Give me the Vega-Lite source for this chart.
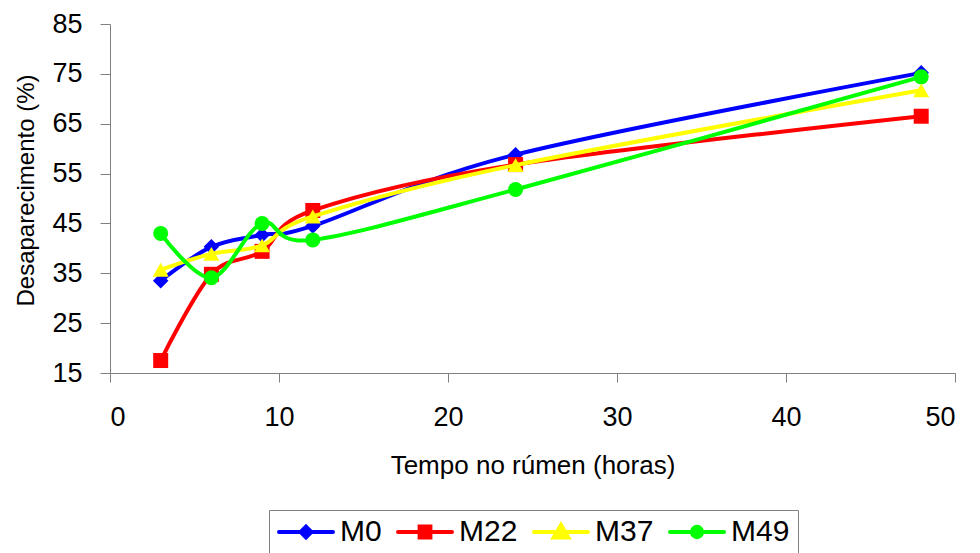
{
  "$schema": "https://vega.github.io/schema/vega-lite/v6.json",
  "width": 845,
  "height": 349,
  "autosize": "none",
  "padding": {"left": 110, "top": 24, "right": 25, "bottom": 180},
  "background": "white",
  "config": {
    "view": {"stroke": null},
    "font": "Liberation Sans",
    "axis": {
      "grid": false,
      "domainColor": "#808080",
      "domainWidth": 1,
      "tickColor": "#808080",
      "tickWidth": 1,
      "labelColor": "black",
      "titleColor": "black",
      "titleFontWeight": "normal",
      "labelFont": "Liberation Sans",
      "titleFont": "Liberation Sans"
    }
  },
  "data": {
    "values": [
      {"tempo": 3, "desap": 33.5, "serie": "M0"},
      {"tempo": 6, "desap": 40.3, "serie": "M0"},
      {"tempo": 9, "desap": 42.7, "serie": "M0"},
      {"tempo": 12, "desap": 44.5, "serie": "M0"},
      {"tempo": 24, "desap": 58.8, "serie": "M0"},
      {"tempo": 48, "desap": 75.2, "serie": "M0"},
      {"tempo": 3, "desap": 17.5, "serie": "M22"},
      {"tempo": 6, "desap": 34.8, "serie": "M22"},
      {"tempo": 9, "desap": 39.4, "serie": "M22"},
      {"tempo": 12, "desap": 47.6, "serie": "M22"},
      {"tempo": 24, "desap": 56.8, "serie": "M22"},
      {"tempo": 48, "desap": 66.5, "serie": "M22"},
      {"tempo": 3, "desap": 35.7, "serie": "M37"},
      {"tempo": 6, "desap": 38.9, "serie": "M37"},
      {"tempo": 9, "desap": 40.6, "serie": "M37"},
      {"tempo": 12, "desap": 46.4, "serie": "M37"},
      {"tempo": 24, "desap": 56.7, "serie": "M37"},
      {"tempo": 48, "desap": 71.7, "serie": "M37"},
      {"tempo": 3, "desap": 43.0, "serie": "M49"},
      {"tempo": 6, "desap": 34.1, "serie": "M49"},
      {"tempo": 9, "desap": 45.0, "serie": "M49"},
      {"tempo": 12, "desap": 41.7, "serie": "M49"},
      {"tempo": 24, "desap": 51.8, "serie": "M49"},
      {"tempo": 48, "desap": 74.4, "serie": "M49"}
    ]
  },
  "encoding": {
    "x": {
      "field": "tempo",
      "type": "quantitative",
      "scale": {"domain": [0, 50], "nice": false, "zero": false},
      "axis": {
        "values": [0, 10, 20, 30, 40, 50],
        "tickSize": 9,
        "labelFontSize": 27,
        "labelPadding": 22,
        "title": "Tempo no rúmen (horas)",
        "titleFontSize": 26,
        "titlePadding": 22
      }
    },
    "y": {
      "field": "desap",
      "type": "quantitative",
      "scale": {"domain": [15, 85], "nice": false, "zero": false},
      "axis": {
        "values": [15, 25, 35, 45, 55, 65, 75, 85],
        "tickSize": 10,
        "labelFontSize": 27,
        "labelPadding": 18,
        "title": "Desaparecimento (%)",
        "titleFontSize": 24,
        "titlePadding": 13,
        "titleY": 166
      }
    },
    "color": {
      "field": "serie",
      "type": "nominal",
      "scale": {
        "domain": ["M0", "M22", "M37", "M49"],
        "range": ["#0000FF", "#FF0000", "#FFFF00", "#00FF00"]
      },
      "legend": {
        "title": null,
        "orient": "none",
        "direction": "horizontal",
        "legendX": 159,
        "legendY": 486,
        "padding": 8,
        "strokeColor": "#808080",
        "columnPadding": 14,
        "symbolSize": 2916,
        "symbolStrokeWidth": 4,
        "clipHeight": 28,
        "labelFontSize": 30,
        "labelFont": "Liberation Sans",
        "labelColor": "black",
        "labelOffset": 5,
        "encode": {
          "symbols": {
            "update": {
              "shape": {"signal": "datum.value === 'M0' ? 'M-1,0H1M0,-0.2L0.2,0L0,0.2L-0.2,0Z' : datum.value === 'M22' ? 'M-1,0H1M-0.2,-0.2H0.2V0.2H-0.2Z' : datum.value === 'M37' ? 'M-1,0H1M0,-0.26L0.27,0.2H-0.27Z' : 'M-1,0H1M0.19,0A0.19,0.19,0,1,1,-0.19,0A0.19,0.19,0,1,1,0.19,0Z'"},
              "fill": {"scale": "color", "field": "value"},
              "stroke": {"scale": "color", "field": "value"},
              "strokeWidth": {"value": 4},
              "strokeCap": {"value": "round"},
              "opacity": {"value": 1},
              "fillOpacity": {"value": 1},
              "strokeOpacity": {"value": 1}
            }
          }
        }
      }
    }
  },
  "layer": [
    {
      "transform": [{"filter": "datum.serie === 'M0'"}],
      "layer": [
        {"mark": {"type": "line", "interpolate": "cardinal", "strokeWidth": 4, "strokeCap": "round"}},
        {"mark": {"type": "point", "shape": "diamond", "filled": true, "size": 240, "opacity": 1}}
      ]
    },
    {
      "transform": [{"filter": "datum.serie === 'M22'"}],
      "layer": [
        {"mark": {"type": "line", "interpolate": "cardinal", "strokeWidth": 4, "strokeCap": "round"}},
        {"mark": {"type": "point", "shape": "square", "filled": true, "size": 225, "opacity": 1}}
      ]
    },
    {
      "transform": [{"filter": "datum.serie === 'M37'"}],
      "layer": [
        {"mark": {"type": "line", "interpolate": "cardinal", "strokeWidth": 4, "strokeCap": "round"}},
        {"mark": {"type": "point", "shape": "triangle-up", "filled": true, "size": 256, "opacity": 1}}
      ]
    },
    {
      "transform": [{"filter": "datum.serie === 'M49'"}],
      "layer": [
        {"mark": {"type": "line", "interpolate": "cardinal", "strokeWidth": 4, "strokeCap": "round"}},
        {"mark": {"type": "point", "shape": "circle", "filled": true, "size": 225, "opacity": 1}}
      ]
    }
  ]
}
